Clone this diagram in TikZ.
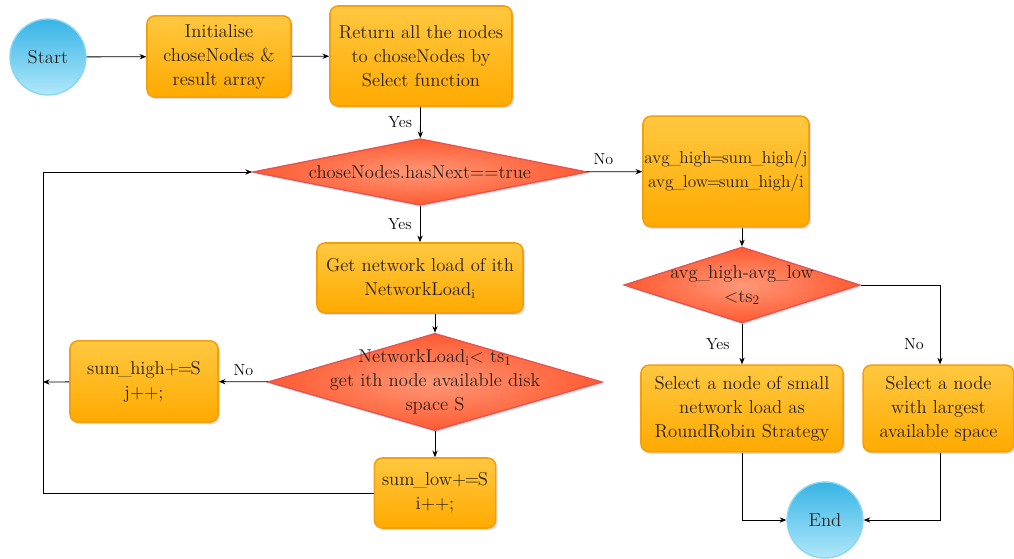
\documentclass[tikz,border=0pt]{standalone}
\usepackage{fontspec}
\usetikzlibrary{shapes.geometric,arrows.meta,shadows,shadings}
\definecolor{boxtop}{HTML}{FFC840}
\definecolor{boxbot}{HTML}{FFAA00}
\definecolor{boxline}{HTML}{F2A010}
\definecolor{diain}{HTML}{FF9878}
\definecolor{diaout}{HTML}{FF5A30}
\definecolor{dialine}{HTML}{E05555}
\definecolor{cirin}{HTML}{B0E8FA}
\definecolor{cirout}{HTML}{38B4E6}
\definecolor{cirline}{HTML}{8AD6F2}
\definecolor{txt}{HTML}{2A2018}
\newcommand\us{\kern-1.2pt\_\kern-1.2pt}
\newcommand\eqs{\kern-1pt=\kern-1pt}
\tikzset{
  base/.style={font=\fontsize{14}{18}\selectfont, text=txt, align=center, inner sep=0pt},
  procbox/.style={base, rectangle, rounded corners=6pt, draw=boxline, line width=1.2pt,
    top color=boxtop, bottom color=boxbot,
    drop shadow={opacity=0.25, shadow xshift=1.5pt, shadow yshift=-1.5pt}},
  decbox/.style={base, diamond, draw=dialine, line width=1pt,
    inner color=diain, outer color=diaout,
    drop shadow={opacity=0.2, shadow xshift=1.5pt, shadow yshift=-1.5pt}},
  termbox/.style={base, circle, draw=cirline, line width=1pt,
    top color=cirout, bottom color=cirin, minimum size=57pt},
  arr/.style={-{Stealth[length=5pt,width=4pt]}, line width=0.6pt, black},
  lbl/.style={font=\fontsize{12}{15}\selectfont, text=black, inner sep=0pt}
}
\begin{document}
\begin{tikzpicture}[x=0.75pt,y=-0.75pt]
\useasboundingbox (0,0) rectangle (1014,558);
% terminals
\node[termbox] (start) at (48,57) {Start};
\node[termbox] (end) at (825,520) {End};
% process boxes
\node[procbox, minimum width=108pt, minimum height=61pt] (init) at (219,56.5) {Initialise\\choseNodes \&\\result array};
\node[procbox, minimum width=136.5pt, minimum height=75pt] (ret) at (421,56) {Return all the nodes\\to choseNodes by\\Select function};
\node[procbox, minimum width=124.5pt, minimum height=83pt, font=\fontsize{13}{18}\selectfont] (avg) at (726,171.5) {avg\us high\eqs sum\us high/j\\avg\us low\eqs sum\us high/i};
\node[procbox, minimum width=154.5pt, minimum height=52.5pt] (get) at (420,278) {Get network load of ith\\NetworkLoad\textsubscript{i}};
\node[procbox, minimum width=111pt, minimum height=61pt] (sumhigh) at (144,381.5) {sum\us high+\eqs S\\j++;};
\node[procbox, minimum width=91pt, minimum height=52.5pt] (sumlow) at (435,493) {sum\us low+\eqs S\\i++;};
\node[procbox, minimum width=151.5pt, minimum height=65pt] (sel1) at (742,408.5) {Select a node of small\\network load as\\RoundRobin Strategy};
\node[procbox, minimum width=113pt, minimum height=65pt] (sel2) at (938.5,408.5) {Select a node\\with largest\\available space};
% decisions
\node[decbox, minimum width=251pt, minimum height=50pt,
  label={[base]center:choseNodes.hasNext==true}] (d1) at (420,172) {};
\node[decbox, minimum width=251pt, minimum height=73pt,
  label={[base]center:{NetworkLoad\textsubscript{i}< ts\textsubscript{1}\\get ith node available disk\\space S}}] (d2) at (435,382) {};
\node[decbox, minimum width=177pt, minimum height=57pt,
  label={[base]center:{avg\us high-avg\us low\\<ts\textsubscript{2}}}] (d3) at (742,285) {};
% helper coordinates
\coordinate (loopT) at (43,172);
\coordinate (loopM) at (43,382);
\coordinate (loopB) at (43,493);
\coordinate (noC) at (940,285);
\coordinate (e1) at (742,520);
\coordinate (e2) at (940,520);
% connectors
\draw[arr] (start) -- (init);
\draw[arr] (init) -- (ret);
\draw[arr] (ret) -- (d1) node[lbl, pos=0.5, left=6pt] {Yes};
\draw[arr] (d1) -- (get.north -| d1.south) node[lbl, midway, left=6pt] {Yes};
\draw[arr] (d1) -- (avg) node[lbl, pos=0.3, above=5pt] {No};
\draw[arr] (get.south -| d2.north) -- (d2.north);
\draw[arr] (d2) -- (sumlow);
\draw[arr] (d2) -- (sumhigh) node[lbl, pos=0.5, above=4pt] {No};
\draw[arr] (sumhigh) -- (loopM);
\draw[arr] (sumlow.west) -- (loopB) -- (loopT) -- (d1.west);
\draw[arr] (avg.south -| d3.north) -- (d3.north);
\draw[arr] (d3) -- (sel1) node[lbl, midway, left=9pt] {Yes};
\draw[arr] (d3.east) -- (noC) -- (sel2.north -| noC) node[lbl, pos=0.75, left=12pt] {No};
\draw[arr] (sel1.south) -- (e1) -- (end.west);
\draw[arr] (sel2.south -| e2) -- (e2) -- (end.east);
\end{tikzpicture}
\end{document}
